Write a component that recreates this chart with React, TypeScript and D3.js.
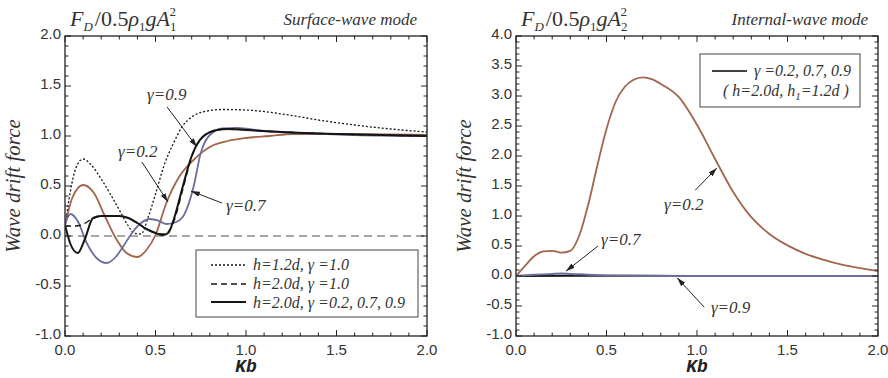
import * as d3 from 'd3';

// x axis (Kb) ticks, shared by both panels
const KB_TICKS = [0, 0.5, 1.0, 1.5, 2.0];
const SURF_Y_TICKS = [-1.0, -0.5, 0.0, 0.5, 1.0, 1.5, 2.0];
const INT_Y_TICKS = [-1.0, -0.5, 0.0, 0.5, 1.0, 1.5, 2.0, 2.5, 3.0, 3.5, 4.0];

// Surface-wave mode, h=1.2d, gamma=1.0 (dotted)
const S_H12_KB = [0, 0.03, 0.06, 0.1, 0.14, 0.2, 0.25, 0.3, 0.35, 0.38, 0.42, 0.46, 0.5, 0.55, 0.6, 0.65, 0.7, 0.76, 0.87, 1.0, 1.2, 1.4, 1.6, 1.8, 2.0];
const S_H12_F = [0.09, 0.45, 0.68, 0.77, 0.72, 0.57, 0.42, 0.26, 0.1, 0.03, 0.02, 0.19, 0.42, 0.72, 0.93, 1.1, 1.19, 1.24, 1.265, 1.26, 1.22, 1.16, 1.11, 1.07, 1.04];
// h=2.0d, gamma=1.0 (dashed)
const S_H20_KB = [0, 0.05, 0.09, 0.15, 0.2, 0.3, 0.35, 0.4, 0.45, 0.5, 0.55, 0.6, 0.65, 0.7, 0.76, 0.84, 0.9, 1.0, 1.2, 1.5, 2.0];
const S_H20_F = [0.1, 0.1, 0.11, 0.17, 0.2, 0.2, 0.18, 0.13, 0.07, 0.03, 0.02, 0.14, 0.46, 0.79, 0.99, 1.06, 1.07, 1.06, 1.04, 1.02, 1.0];
// h=2.0d, gamma=0.9 (solid black)
const S_G09_KB = [0, 0.03, 0.07, 0.11, 0.155, 0.2, 0.3, 0.35, 0.4, 0.45, 0.5, 0.54, 0.57, 0.6, 0.65, 0.7, 0.76, 0.84, 0.9, 1.0, 1.2, 1.5, 2.0];
const S_G09_F = [0.11, -0.08, -0.17, -0.03, 0.18, 0.2, 0.2, 0.18, 0.13, 0.07, 0.03, 0.01, 0.03, 0.16, 0.49, 0.8, 0.99, 1.06, 1.07, 1.06, 1.04, 1.02, 1.0];
// gamma=0.7 (blue)
const S_G07_KB = [0, 0.03, 0.07, 0.12, 0.18, 0.23, 0.28, 0.33, 0.37, 0.42, 0.47, 0.52, 0.56, 0.6, 0.65, 0.71, 0.75, 0.8, 0.87, 0.95, 1.1, 1.3, 1.6, 2.0];
const S_G07_F = [0.12, 0.22, 0.15, -0.07, -0.23, -0.27, -0.21, -0.08, 0.03, 0.13, 0.17, 0.15, 0.12, 0.13, 0.19, 0.49, 0.83, 1.01, 1.075, 1.08, 1.05, 1.03, 1.01, 1.0];
// gamma=0.2 (brown)
const S_G02_KB = [0, 0.04, 0.1, 0.16, 0.22, 0.28, 0.34, 0.4, 0.45, 0.5, 0.56, 0.63, 0.71, 0.8, 0.9, 1.0, 1.13, 1.26, 1.5, 2.0];
const S_G02_F = [0.1, 0.38, 0.51, 0.43, 0.2, -0.02, -0.17, -0.21, -0.14, 0.01, 0.33, 0.59, 0.76, 0.89, 0.95, 0.98, 1.0, 1.02, 1.02, 1.01];

// Internal-wave mode
const I_G02_KB = [0, 0.05, 0.1, 0.15, 0.2, 0.25, 0.3, 0.35, 0.4, 0.45, 0.5, 0.55, 0.6, 0.65, 0.7, 0.75, 0.8, 0.9, 1.0, 1.1, 1.2, 1.3, 1.4, 1.5, 1.6, 1.7, 1.8, 1.9, 2.0];
const I_G02_F = [0, 0.17, 0.33, 0.41, 0.42, 0.39, 0.42, 0.68, 1.2, 1.85, 2.45, 2.9, 3.15, 3.27, 3.31, 3.28, 3.2, 2.98, 2.52, 1.95, 1.4, 0.98, 0.7, 0.51, 0.37, 0.27, 0.19, 0.13, 0.08];
const I_G07_KB = [0, 0.1, 0.2, 0.25, 0.3, 0.4, 0.5, 0.6, 0.8, 1.0, 2.0];
const I_G07_F = [0, 0.02, 0.035, 0.04, 0.035, 0.02, 0.01, 0.005, 0, 0, 0];
const I_G09_KB = [0, 0.5, 1.0, 1.5, 2.0];
const I_G09_F = [0, 0.005, 0, 0, 0];

const BROWN = '#a2654c';
const BLUE = '#6c6e9c';
const BLACK = '#151515';

const zip = (xs: number[], ys: number[]) => xs.map((x, i) => [x, ys[i]] as [number, number]);
const fmt = (v: number) => v.toFixed(1);

type Series = { pts: [number, number][]; color: string; width: number; dash?: string };
type Note = { text: string; tx: number; ty: number; ax: number; ay: number; bx: number; by: number };

const SERIF = { fontFamily: 'Liberation Serif, DejaVu Serif, serif', fontStyle: 'italic' } as const;
const SANS = { fontFamily: 'Liberation Sans, Arial, sans-serif' } as const;
const MONO = { fontFamily: 'Liberation Mono, DejaVu Sans Mono, monospace', fontStyle: 'italic', fontWeight: 'bold' } as const;

function Panel(props: {
  left: number; right: number; top: number; bottom: number;
  yDomain: [number, number]; yTicks: number[];
  series: Series[]; notes: Note[]; zeroLine: boolean;
  sub: string; mode: string; id: string;
  children?: any;
}) {
  const { left, right, top, bottom, yDomain, yTicks, series, notes, zeroLine, sub, mode, id } = props;
  const x = d3.scaleLinear().domain([0, 2]).range([left, right]);
  const y = d3.scaleLinear().domain(yDomain).range([bottom, top]);
  const line = d3.line<[number, number]>().x(d => x(d[0])).y(d => y(d[1])).curve(d3.curveMonotoneX);
  const xMinor = d3.range(0, 2.0001, 0.1);
  const yMinor = d3.range(yDomain[0], yDomain[1] + 0.0001, 0.1);
  const isMajor = (v: number) => Math.abs(v * 2 - Math.round(v * 2)) < 1e-6;
  const midY = (top + bottom) / 2;
  const axc = '#222';
  return (
    <g>
      <defs>
        <clipPath id={`clip-${id}`}>
          <rect x={left} y={top} width={right - left} height={bottom - top} />
        </clipPath>
      </defs>
      {zeroLine && (
        <line x1={x(0)} x2={x(2)} y1={y(0)} y2={y(0)} stroke="#8a8a8a" strokeWidth={1.6} strokeDasharray="8,5" />
      )}
      <g clipPath={`url(#clip-${id})`}>
        {series.map((s, i) => (
          <path key={i} d={line(s.pts) || ''} fill="none" stroke={s.color} strokeWidth={s.width} strokeDasharray={s.dash} />
        ))}
      </g>
      {/* frame and inward ticks on all sides */}
      <rect x={left} y={top} width={right - left} height={bottom - top} fill="none" stroke={axc} strokeWidth={1.3} />
      {xMinor.map((v, i) => {
        const len = isMajor(v) ? 6 : 3.5;
        return (
          <g key={'xt' + i} stroke={axc} strokeWidth={1}>
            <line x1={x(v)} x2={x(v)} y1={bottom} y2={bottom - len} />
            <line x1={x(v)} x2={x(v)} y1={top} y2={top + len} />
          </g>
        );
      })}
      {yMinor.map((v, i) => {
        const len = isMajor(v) ? 6 : 3.5;
        return (
          <g key={'yt' + i} stroke={axc} strokeWidth={1}>
            <line x1={left} x2={left + len} y1={y(v)} y2={y(v)} />
            <line x1={right} x2={right - len} y1={y(v)} y2={y(v)} />
          </g>
        );
      })}
      {KB_TICKS.map(v => (
        <text key={'xl' + v} x={x(v)} y={bottom + 19} textAnchor="middle" style={SANS} fontSize={15} fill="#333">
          {fmt(v)}
        </text>
      ))}
      {yTicks.map(v => (
        <text key={'yl' + v} x={left - 4} y={y(v) + 3} textAnchor="end" style={SANS} fontSize={15} fill="#333">
          {fmt(v)}
        </text>
      ))}
      <text x={(left + right) / 2} y={bottom + 36} textAnchor="middle" style={MONO} fontSize={18} fill="#222">Kb</text>
      <text transform={`translate(${left - 45},${midY}) rotate(-90)`} textAnchor="middle" style={SERIF}
        fontSize={21} fill="#333">Wave drift force</text>
      <text x={left + 5} y={top - 10} style={{ fontFamily: SERIF.fontFamily }} fontSize={22} fill="#333">
        <tspan fontStyle="italic">F</tspan>
        <tspan fontStyle="italic" fontSize={13} dy={5}>D</tspan>
        <tspan dy={-5} dx={2}>/0.5</tspan>
        <tspan fontStyle="italic">ρ</tspan>
        <tspan fontSize={13} dy={5}>1</tspan>
        <tspan fontStyle="italic" dy={-5}>gA</tspan>
        <tspan fontSize={13} dy={5}>{sub}</tspan>
        <tspan fontSize={13} dx={-7} dy={-15}>2</tspan>
      </text>
      <text x={right - 10} y={top - 11} textAnchor="end" style={SERIF} fontSize={17} fill="#333">{mode}</text>
      {notes.map((n, i) => (
        <g key={'n' + i}>
          <line x1={x(n.ax)} y1={y(n.ay)} x2={x(n.bx)} y2={y(n.by)} stroke="#222" strokeWidth={1} markerEnd="url(#arrowHead)" />
          <text x={x(n.tx)} y={y(n.ty)} style={SERIF} fontSize={17} fill="#333">γ={n.text}</text>
        </g>
      ))}
      {props.children}
    </g>
  );
}

const SURF_NOTES: Note[] = [
  { text: '0.9', tx: 0.453, ty: 1.36, ax: 0.564, ay: 1.29, bx: 0.729, by: 0.89 },
  { text: '0.2', tx: 0.293, ty: 0.79, ax: 0.425, ay: 0.74, bx: 0.569, by: 0.34 },
  { text: '0.7', tx: 0.89, ty: 0.25, ax: 0.867, ay: 0.33, bx: 0.696, by: 0.45 },
];
const INT_NOTES: Note[] = [
  { text: '0.2', tx: 0.818, ty: 1.1, ax: 0.99, ay: 1.43, bx: 1.11, by: 1.8 },
  { text: '0.7', tx: 0.47, ty: 0.52, ax: 0.453, ay: 0.5, bx: 0.276, by: 0.08 },
  { text: '0.9', tx: 1.077, ty: -0.62, ax: 1.04, ay: -0.52, bx: 0.89, by: -0.03 },
];

export default function App() {
  const surf: Series[] = [
    { pts: zip(S_H12_KB, S_H12_F), color: BLACK, width: 1.3, dash: '2,2' },
    { pts: zip(S_G02_KB, S_G02_F), color: BROWN, width: 1.8 },
    { pts: zip(S_G07_KB, S_G07_F), color: BLUE, width: 1.8 },
    { pts: zip(S_H20_KB, S_H20_F), color: BLACK, width: 1.4, dash: '6,4' },
    { pts: zip(S_G09_KB, S_G09_F), color: BLACK, width: 2 },
  ];
  const intl: Series[] = [
    { pts: zip(I_G02_KB, I_G02_F), color: BROWN, width: 1.8 },
    { pts: zip(I_G09_KB, I_G09_F), color: BLACK, width: 2 },
    { pts: zip(I_G07_KB, I_G07_F), color: BLUE, width: 2 },
  ];
  return (
    <svg width={888} height={378} style={{ position: 'absolute', left: 0, top: 0, background: '#fff' }}>
      <defs>
        <marker id="arrowHead" viewBox="0 0 10 6" refX={10} refY={3} markerWidth={9} markerHeight={5.5}
          markerUnits="userSpaceOnUse" orient="auto">
          <path d="M0,0 L10,3 L0,6 z" fill="#222" />
        </marker>
      </defs>
      <Panel id="s" left={65} right={427} top={36} bottom={336} yDomain={[-1, 2]} yTicks={SURF_Y_TICKS}
        series={surf} notes={SURF_NOTES} zeroLine sub="1" mode="Surface-wave mode">
        <rect x={196} y={250} width={222} height={67} fill="#fff" stroke="#444" strokeWidth={1} />
        <line x1={211} x2={246} y1={265} y2={265} stroke={BLACK} strokeWidth={1.3} strokeDasharray="2,2" />
        <line x1={211} x2={246} y1={284} y2={284} stroke={BLACK} strokeWidth={1.4} strokeDasharray="6,4" />
        <line x1={211} x2={246} y1={302} y2={302} stroke={BLACK} strokeWidth={2} />
        <text x={253} y={270} style={SERIF} fontSize={16} fill="#333">h=1.2d, γ =1.0</text>
        <text x={253} y={289} style={SERIF} fontSize={16} fill="#333">h=2.0d, γ =1.0</text>
        <text x={253} y={308} style={SERIF} fontSize={16} fill="#333">h=2.0d, γ =0.2, 0.7, 0.9</text>
      </Panel>
      <Panel id="i" left={516} right={878} top={36} bottom={336} yDomain={[-1, 4]} yTicks={INT_Y_TICKS}
        series={intl} notes={INT_NOTES} zeroLine={false} sub="2" mode="Internal-wave mode">
        <rect x={700} y={54} width={160} height={53} fill="#fff" stroke="#444" strokeWidth={1} />
        <line x1={712} x2={747} y1={71} y2={71} stroke="#444" strokeWidth={2} />
        <text x={754} y={76} style={SERIF} fontSize={16} fill="#333">γ =0.2, 0.7, 0.9</text>
        <text x={723} y={96} style={SERIF} fontSize={16} fill="#333">( h=2.0d, h<tspan fontSize={11} dy={4}>1</tspan><tspan dy={-4}>=1.2d )</tspan></text>
      </Panel>
    </svg>
  );
}
